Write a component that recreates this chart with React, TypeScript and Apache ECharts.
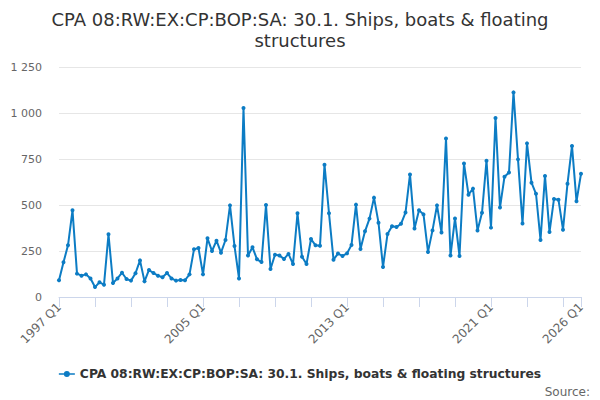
import React, { useEffect, useRef } from "react";
import * as echarts from "echarts";

const TITLE = "CPA 08:RW:EX:CP:BOP:SA: 30.1. Ships, boats & floating\nstructures";
const SERIES_NAME = "CPA 08:RW:EX:CP:BOP:SA: 30.1. Ships, boats & floating structures";

const START_YEAR = 1997;
const QUARTER_COUNT = 117;
const categories: string[] = [];
for (let i = 0; i < QUARTER_COUNT; i++) {
  categories.push(`${START_YEAR + Math.floor(i / 4)} Q${(i % 4) + 1}`);
}

const values: number[] = [
  91, 189, 281, 471, 127, 116, 123, 101, 54, 80, 67, 341, 76, 101, 132, 98,
  89, 129, 199, 85, 147, 130, 116, 107, 130, 101, 89, 92, 91, 123, 259, 266,
  123, 319, 250, 306, 241, 310, 498, 277, 101, 1027, 225, 270, 205, 190, 500, 152,
  230, 225, 207, 234, 179, 455, 219, 179, 315, 281, 279, 719, 455, 203, 236, 223,
  237, 283, 502, 261, 357, 426, 540, 404, 163, 342, 384, 380, 398, 459, 666, 372,
  472, 449, 245, 362, 498, 350, 861, 225, 427, 223, 725, 556, 589, 361, 458, 741,
  377, 973, 486, 654, 677, 1112, 748, 399, 835, 621, 561, 310, 658, 353, 533, 528,
  366, 616, 821, 520, 670,
];

const yTicks = { min: 0, max: 1250, interval: 250 };

export default function App() {
  const ref = useRef<HTMLDivElement>(null);
  useEffect(() => {
    document.body.style.margin = "0";
    if (!ref.current) return;
    const chart = echarts.init(ref.current, undefined, { renderer: "svg" });
    const font = "DejaVu Sans";
    const last = categories.length - 1;
    chart.setOption({
      animation: false,
      textStyle: { fontFamily: font },
      title: {
        text: TITLE,
        left: "center",
        top: 4,
        textStyle: { fontFamily: font, fontSize: 18, fontWeight: "normal", color: "#333333", lineHeight: 21 },
      },
      grid: { left: 59, right: 19, top: 67, bottom: 103, containLabel: false },
      legend: {
        bottom: 15,
        left: "center",
        itemWidth: 16,
        itemHeight: 6,
        itemGap: 6,
        textStyle: { fontFamily: font, fontSize: 12.3, fontWeight: "bold", color: "#333333" },
        data: [
          {
            name: SERIES_NAME,
            icon: "path://M0,2.2 L16,2.2 L16,3.8 L0,3.8 Z M11,3 A3,3 0 1,1 5,3 A3,3 0 1,1 11,3 Z",
          },
        ],
      },
      graphic: [
        {
          type: "text",
          right: 10,
          bottom: 2,
          style: { text: "Source:", font: `12px ${font}`, fill: "#666666" },
        },
      ],
      xAxis: {
        type: "category",
        data: categories,
        boundaryGap: false,
        axisLine: { lineStyle: { color: "#ccd6eb" } },
        axisTick: {
          alignWithLabel: true,
          length: 10,
          lineStyle: { color: "#ccd6eb" },
          interval: (i: number) => i % 8 === 0 || i === last,
        },
        axisLabel: {
          rotate: 45,
          color: "#666666",
          fontSize: 12,
          fontFamily: font,
          margin: 8,
          interval: (i: number) => i % 32 === 0 || i === last,
        },
        splitLine: { show: false },
      },
      yAxis: {
        type: "value",
        min: yTicks.min,
        max: yTicks.max,
        interval: yTicks.interval,
        axisLine: { show: false },
        axisTick: { show: false },
        axisLabel: {
          color: "#666666",
          fontSize: 11,
          fontFamily: font,
          margin: 17,
          formatter: (v: number) => String(v).replace(/\B(?=(\d{3})+(?!\d))/g, " "),
        },
        splitLine: { lineStyle: { color: "#e6e6e6" } },
      },
      series: [
        {
          name: SERIES_NAME,
          type: "line",
          data: values,
          symbol: "circle",
          symbolSize: 4,
          showAllSymbol: true,
          lineStyle: { color: "#0c7cc4", width: 2 },
          itemStyle: { color: "#0c7cc4" },
        },
      ],
    });
    return () => chart.dispose();
  }, []);
  return <div ref={ref} style={{ width: 600, height: 400 }} />;
}
